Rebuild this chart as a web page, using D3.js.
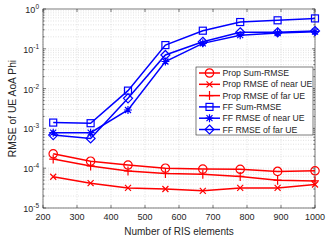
<!DOCTYPE html>
<html>
<head>
<meta charset="utf-8">
<script src="https://cdn.jsdelivr.net/npm/d3@7"></script>
<style>
  body { margin: 0; background: #fff; }
  svg { display: block; font-family: "Liberation Sans", Arial, sans-serif; }
</style>
</head>
<body>
<div id="plot"></div>
<script>
// Data
const ris = [230, 340, 450, 560, 670, 780, 890, 1000];
const propSum  = [2.3e-4, 1.5e-4, 1.2e-4, 1.0e-4, 9.5e-5, 9.4e-5, 8.3e-5, 8.6e-5];
const propNear = [6.1e-5, 4.2e-5, 3.2e-5, 3.0e-5, 2.7e-5, 3.2e-5, 3.2e-5, 3.9e-5];
const propFar  = [1.7e-4, 1.14e-4, 8.5e-5, 7.4e-5, 7.0e-5, 6.2e-5, 5.0e-5, 4.8e-5];
const ffSum    = [1.4e-3, 1.35e-3, 8.9e-3, 0.124, 0.285, 0.47, 0.52, 0.58];
const ffNear   = [7.8e-4, 7.8e-4, 2.9e-3, 0.048, 0.137, 0.22, 0.25, 0.27];
const ffFar    = [6.8e-4, 5.6e-4, 5.7e-3, 0.07, 0.15, 0.26, 0.26, 0.28];
const xTicks = [200, 300, 400, 500, 600, 700, 800, 900, 1000];
const yExps = [0, -1, -2, -3, -4, -5];

const series = [
  { name: "Prop Sum-RMSE",        values: propSum,  color: "#ff0000", marker: "circle" },
  { name: "Prop RMSE of near UE", values: propNear, color: "#ff0000", marker: "x" },
  { name: "Prop RMSE of far UE",  values: propFar,  color: "#ff0000", marker: "plus" },
  { name: "FF Sum-RMSE",          values: ffSum,    color: "#0000ff", marker: "square" },
  { name: "FF RMSE of near UE",   values: ffNear,   color: "#0000ff", marker: "star" },
  { name: "FF RMSE of far UE",    values: ffFar,    color: "#0000ff", marker: "diamond" }
];

const W = 333, H = 241;
const margin = { top: 9, right: 18, bottom: 33, left: 43 };
const width = W - margin.left - margin.right;
const height = H - margin.top - margin.bottom;

const svg = d3.select("#plot").append("svg")
  .attr("width", W).attr("height", H);
const g = svg.append("g")
  .attr("transform", `translate(${margin.left},${margin.top})`);

const x = d3.scaleLinear().domain([200, 1000]).range([0, width]);
const y = d3.scaleLog().domain([1e-5, 1]).range([height, 0]);

// Grid (dotted, major + minor)
const grid = g.append("g").attr("stroke", "#d0d0d0").attr("stroke-width", 0.6)
  .attr("stroke-dasharray", "1,1.5");
xTicks.forEach(t => {
  grid.append("line").attr("x1", x(t)).attr("x2", x(t)).attr("y1", 0).attr("y2", height);
});
const minor = [];
for (let e = -5; e < 0; e++) for (let m = 1; m < 10; m++) minor.push(m * Math.pow(10, e));
minor.forEach(v => {
  grid.append("line").attr("x1", 0).attr("x2", width).attr("y1", y(v)).attr("y2", y(v));
});

// Ticks (inward, all sides)
const tk = g.append("g").attr("stroke", "#262626").attr("stroke-width", 0.6);
xTicks.forEach(t => {
  tk.append("line").attr("x1", x(t)).attr("x2", x(t)).attr("y1", height).attr("y2", height - 3);
  tk.append("line").attr("x1", x(t)).attr("x2", x(t)).attr("y1", 0).attr("y2", 3);
});
minor.concat([1]).forEach(v => {
  const isMajor = Math.abs(Math.log10(v) - Math.round(Math.log10(v))) < 1e-9;
  const len = isMajor ? 3 : 1.6;
  tk.append("line").attr("x1", 0).attr("x2", len).attr("y1", y(v)).attr("y2", y(v));
  tk.append("line").attr("x1", width).attr("x2", width - len).attr("y1", y(v)).attr("y2", y(v));
});

g.append("rect").attr("width", width).attr("height", height)
  .attr("fill", "none").attr("stroke", "#262626").attr("stroke-width", 0.6);

// Tick labels
g.append("g").selectAll("text").data(xTicks).join("text")
  .attr("x", d => x(d)).attr("y", height + 12)
  .attr("text-anchor", "middle").attr("font-size", 9).attr("fill", "#262626")
  .text(d => d);

const yl = g.append("g").selectAll("text").data(yExps).join("text")
  .attr("x", -4).attr("y", d => y(Math.pow(10, d)) + 4)
  .attr("text-anchor", "end").attr("font-size", 9).attr("fill", "#262626");
yl.append("tspan").text("10");
yl.append("tspan").attr("dy", -4).attr("font-size", 6.5).text(d => d);

// Axis titles
svg.append("text").attr("x", margin.left + width / 2).attr("y", 235)
  .attr("text-anchor", "middle").attr("font-size", 10).attr("fill", "#262626")
  .text("Number of RIS elements");
svg.append("text")
  .attr("transform", `translate(16,${margin.top + height / 2}) rotate(-90)`)
  .attr("text-anchor", "middle").attr("font-size", 10.3).attr("fill", "#262626")
  .text("RMSE of UE AoA Phi");

// Markers
function drawMarker(sel, type, color, cx, cy) {
  const s = sel.append("g").attr("transform", `translate(${cx},${cy})`)
    .attr("stroke", color).attr("fill", "none").attr("stroke-width", 1.2);
  if (type === "circle") s.append("circle").attr("r", 4.2);
  else if (type === "square") s.append("rect").attr("x", -3.5).attr("y", -3.5).attr("width", 7).attr("height", 7);
  else if (type === "diamond") s.append("path").attr("d", "M0,-4.5L4.5,0L0,4.5L-4.5,0Z");
  else if (type === "x") s.append("path").attr("d", "M-3,-3L3,3M-3,3L3,-3");
  else if (type === "plus") s.append("path").attr("d", "M-4,0L4,0M0,-4.5L0,4.5");
  else if (type === "star") s.append("path").attr("d", "M-4,0L4,0M0,-4L0,4M-3,-3L3,3M-3,3L3,-3");
}

const line = d3.line().x(d => x(d[0])).y(d => y(d[1]));
const plotG = g.append("g");
series.forEach(s => {
  const pts = ris.map((r, i) => [r, s.values[i]]);
  plotG.append("path").datum(pts).attr("d", line)
    .attr("fill", "none").attr("stroke", s.color).attr("stroke-width", 1.5);
  pts.forEach(p => drawMarker(plotG, s.marker, s.color, x(p[0]), y(p[1])));
});

// Legend
const lg = svg.append("g").attr("transform", "translate(196,67)");
lg.append("rect").attr("width", 117).attr("height", 68)
  .attr("fill", "#fff").attr("stroke", "#262626").attr("stroke-width", 0.6);
series.forEach((s, i) => {
  const yy = 6 + i * 11.3;
  lg.append("line").attr("x1", 3).attr("x2", 24).attr("y1", yy).attr("y2", yy)
    .attr("stroke", s.color).attr("stroke-width", 1.5);
  drawMarker(lg, s.marker, s.color, 13.5, yy);
  lg.append("text").attr("x", 26.5).attr("y", yy + 3).attr("font-size", 8.7)
    .attr("fill", "#262626").text(s.name);
});
</script>
</body>
</html>
